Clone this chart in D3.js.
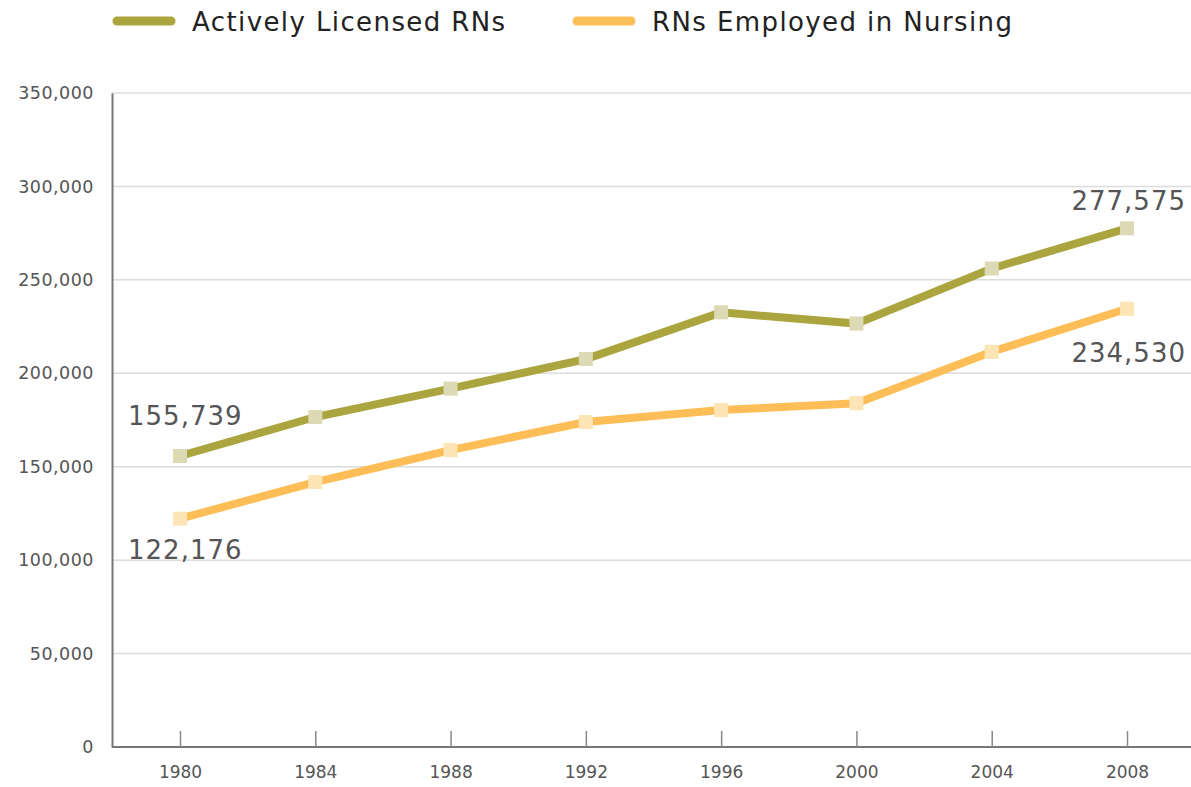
<!DOCTYPE html>
<html>
<head>
<meta charset="utf-8">
<script src="https://cdn.jsdelivr.net/npm/d3@7"></script>
<style>
  body { margin: 0; background: #fff; }
  text { font-family: "DejaVu Sans", sans-serif; }
</style>
</head>
<body>
<div id="chart"></div>
<script>
const years = [1980, 1984, 1988, 1992, 1996, 2000, 2004, 2008];
const licensed = [155739, 176600, 191800, 207600, 232600, 226600, 256100, 277575];
const employed = [122176, 141800, 158900, 173900, 180300, 184000, 211500, 234530];
const yTicks = [0, 50000, 100000, 150000, 200000, 250000, 300000, 350000];
const seriesNames = ["Actively Licensed RNs", "RNs Employed in Nursing"];

const width = 1191, height = 787;
const svg = d3.select("#chart").append("svg")
    .attr("width", width)
    .attr("height", height);

const x = d3.scaleLinear().domain([1980, 2008]).range([180, 1127]);
const y = d3.scaleLinear().domain([0, 350000]).range([747, 93]);
const fmt = d3.format(",");

// gridlines
svg.selectAll(".grid")
    .data(yTicks.filter(d => d > 0))
    .enter().append("line")
    .attr("x1", 112).attr("x2", width)
    .attr("y1", d => y(d)).attr("y2", d => y(d))
    .style("stroke", "#dcdcdc")
    .style("stroke-width", 1.5);

// y axis
const yAxis = svg.append("g")
    .attr("transform", "translate(112,0)")
    .call(d3.axisLeft(y).tickValues(yTicks).tickFormat(d => d === 0 ? "0" : fmt(d)).tickSize(0).tickPadding(18));
yAxis.select(".domain").style("stroke", "#777").style("stroke-width", 2);
yAxis.selectAll("text").style("font-size", "17.5px").style("letter-spacing", "0.5px").style("fill", "#555");

// x axis, ticks point up
const xAxis = svg.append("g")
    .attr("transform", "translate(0,747)")
    .call(d3.axisBottom(x).tickValues(years).tickFormat(d3.format("d")).tickSize(-16).tickPadding(19));
xAxis.select(".domain").attr("d", `M112,0H${width}`).style("stroke", "#777").style("stroke-width", 2);
xAxis.selectAll(".tick line").style("stroke", "#888").style("stroke-width", 1.5);
xAxis.selectAll("text").style("font-size", "17px").style("fill", "#555");

const line = d3.line().x((d, i) => x(years[i])).y(d => y(d));

const series = [
  { values: licensed, color: "#aba53f", marker: "#dcdab4" },
  { values: employed, color: "#fdbd57", marker: "#fde5b6" }
];

series.forEach(s => {
  svg.append("path")
      .datum(s.values)
      .attr("d", line)
      .style("fill", "none")
      .style("stroke", s.color)
      .style("stroke-width", 8);
  svg.selectAll(null)
      .data(s.values)
      .enter().append("rect")
      .attr("x", (d, i) => x(years[i]) - 7)
      .attr("y", d => y(d) - 7)
      .attr("width", 14).attr("height", 14)
      .style("fill", s.marker);
});

// value labels
const labels = [
  { text: fmt(licensed[0]), x: x(years[0]) - 52, y: y(licensed[0]) - 31, anchor: "start" },
  { text: fmt(employed[0]), x: x(years[0]) - 52, y: y(employed[0]) + 40, anchor: "start" },
  { text: fmt(licensed[7]), x: 1186, y: y(licensed[7]) - 18, anchor: "end" },
  { text: fmt(employed[7]), x: 1186, y: y(employed[7]) + 53, anchor: "end" }
];
svg.selectAll(".vlabel")
    .data(labels)
    .enter().append("text")
    .attr("x", d => d.x).attr("y", d => d.y)
    .attr("text-anchor", d => d.anchor)
    .style("font-size", "26px")
    .style("letter-spacing", "1px")
    .style("fill", "#555")
    .text(d => d.text);

// legend
const legend = [
  { name: seriesNames[0], color: series[0].color, x: 117, tx: 192 },
  { name: seriesNames[1], color: series[1].color, x: 577, tx: 652 }
];
legend.forEach(l => {
  svg.append("line")
      .attr("x1", l.x).attr("x2", l.x + 54)
      .attr("y1", 21).attr("y2", 21)
      .style("stroke", l.color)
      .style("stroke-width", 9)
      .style("stroke-linecap", "round");
  svg.append("text")
      .attr("x", l.tx).attr("y", 31)
      .style("font-size", "26px")
      .style("letter-spacing", "1.4px")
      .style("fill", "#222")
      .text(l.name);
});
</script>
</body>
</html>
